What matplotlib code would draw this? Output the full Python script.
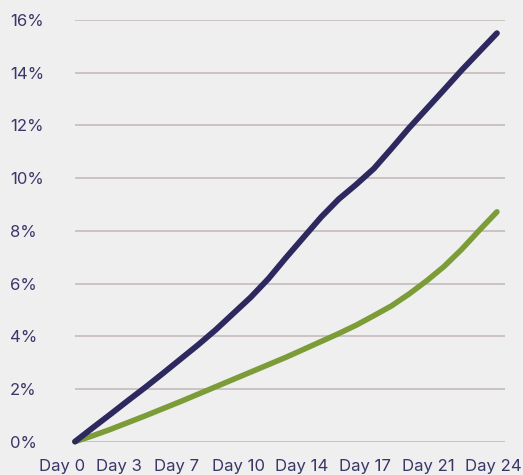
import matplotlib
matplotlib.use("Agg")
import matplotlib.pyplot as plt

days = list(range(25))
navy_series = [0, 0.52, 1.03, 1.55, 2.06, 2.59, 3.13, 3.67, 4.24, 4.86, 5.48, 6.18,
               6.98, 7.75, 8.52, 9.2, 9.76, 10.36, 11.12, 11.9, 12.63, 13.36, 14.1, 14.8, 15.5]
green_series = [0, 0.22, 0.46, 0.72, 0.98, 1.25, 1.52, 1.8, 2.08, 2.36, 2.64, 2.92,
                3.2, 3.5, 3.8, 4.1, 4.42, 4.78, 5.15, 5.6, 6.1, 6.65, 7.3, 8.02, 8.72]
x_tick_labels = ["Day 0", "Day 3", "Day 7", "Day 10", "Day 14", "Day 17", "Day 21", "Day 24"]
y_ticks = [0, 2, 4, 6, 8, 10, 12, 14, 16]

W, H = 523, 475
fig = plt.figure(figsize=(W / 100, H / 100), dpi=100)
bg = "#efeff0"
fig.patch.set_facecolor(bg)

x0_px, right, top, bottom = 75, 505, 20, 441.6
px_per_day = 17.58
xmin = -1.0
left = x0_px + xmin * px_per_day
xmax = (right - x0_px) / px_per_day

ax = fig.add_axes([left / W, 1 - bottom / H, (right - left) / W, (bottom - top) / H])
ax.set_facecolor(bg)

ax.hlines(y_ticks, 0, xmax, color="#cbc2c3", lw=1.4, zorder=1)

ax.plot(days, navy_series, color="#2d285e", lw=4.2, solid_capstyle="round", zorder=3, clip_on=False)
ax.plot(days, green_series, color="#7c9c38", lw=4.0, solid_capstyle="round", zorder=2, clip_on=False)

tick_px = [62, 119, 177, 238, 302, 365, 428, 493]
ax.set_xticks([(p - x0_px) / px_per_day for p in tick_px])
ax.set_xticklabels(x_tick_labels)
ax.set_yticks(y_ticks)
ax.set_yticklabels([f"{v}%" for v in y_ticks])

ax.set_xlim(xmin, xmax)
ax.set_ylim(0, 16)

txt_color = "#3b3668"
ax.tick_params(axis="both", length=0, labelcolor=txt_color, labelsize=12)
ax.tick_params(axis="x", pad=12.5)
ax.tick_params(axis="y", pad=(left - 10) * 0.72)
for lab in ax.get_yticklabels():
    lab.set_horizontalalignment("left")
for lab in ax.get_xticklabels() + ax.get_yticklabels():
    lab.set_fontfamily("Inter")

for s in ax.spines.values():
    s.set_visible(False)

fig.savefig("out.png", dpi=100, facecolor=bg)
